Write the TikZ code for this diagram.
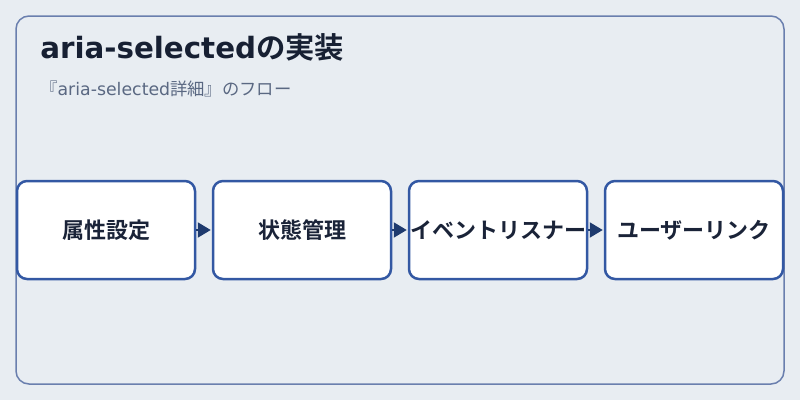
\documentclass[tikz,border=0pt]{standalone}
\usepackage{fontspec}
\setmainfont{Noto Sans CJK JP}[BoldFont={Noto Sans CJK JP Bold}]
\newfontfamily\latfont{DejaVu Sans}
\usetikzlibrary{arrows.meta}
\definecolor{bgc}{HTML}{E8EDF2}
\definecolor{framec}{HTML}{6A7FAE}
\definecolor{boxc}{HTML}{3358A3}
\definecolor{arrc}{HTML}{1E3A6E}
\definecolor{titlec}{HTML}{172033}
\definecolor{subc}{HTML}{5A6882}
\definecolor{txtc}{HTML}{1A2338}
\tikzset{
  stepbox/.style={draw=boxc, line width=1.875pt, fill=white, rounded corners=7.5pt,
    minimum width=133.5pt, minimum height=73.5pt, inner sep=0pt, text=txtc,
    font=\fontsize{16.5pt}{19pt}\selectfont\bfseries},
  flowarrow/.style={draw=arrc, line width=1.5pt, -{Triangle[length=9.75pt,width=11.25pt]}, shorten >=0.75pt}
}
\begin{document}
\begin{tikzpicture}[x=0.75pt, y=-0.75pt]
\useasboundingbox (0,0) rectangle (800,400);
\fill[bgc] (0,0) rectangle (800,400);
\draw[framec, line width=1.125pt, rounded corners=9.75pt] (16,16) rectangle (784,384);
\node[anchor=base west, inner sep=0pt, text=titlec, font=\fontsize{22pt}{26pt}\selectfont\bfseries] (title) at (40,58) {{\latfont\bfseries aria-selected}の実装};
\node[anchor=base west, inner sep=0pt, text=subc, font=\fontsize{13pt}{16pt}\selectfont] (sub) at (40,95) {『{\latfont aria-selected}詳細』のフロー};
\node[stepbox] (b1) at (106,230) {属性設定};
\node[stepbox] (b2) at (302,230) {状態管理};
\node[stepbox] (b3) at (498,230) {イベントリスナー};
\node[stepbox] (b4) at (694,230) {ユーザーリンク};
\draw[flowarrow] (b1.east) -- (b2.west);
\draw[flowarrow] (b2.east) -- (b3.west);
\draw[flowarrow] (b3.east) -- (b4.west);
\end{tikzpicture}
\end{document}
